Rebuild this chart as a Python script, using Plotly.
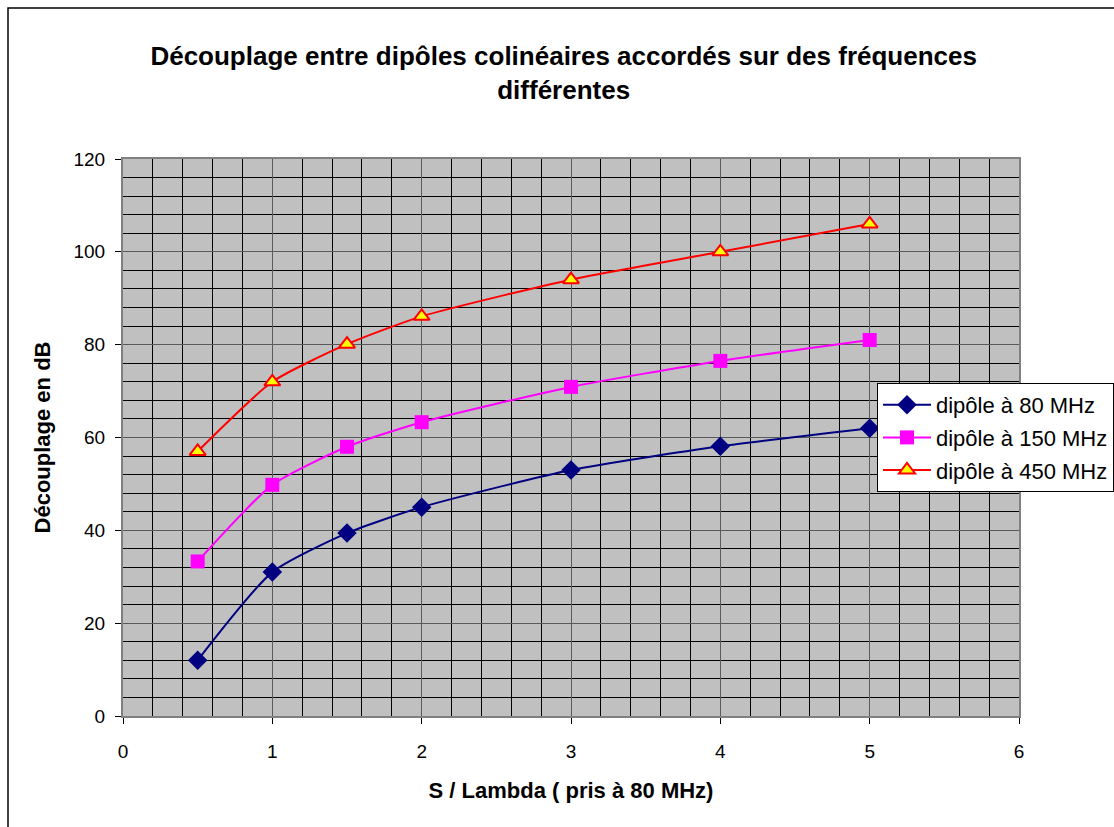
import plotly.graph_objects as go

x_vals = [0.5, 1, 1.5, 2, 3, 4, 5]
y_80 = [12, 31, 39.4, 45, 53, 58.1, 62]
y_150 = [33.3, 49.8, 58, 63.3, 70.9, 76.5, 81]
y_450 = [57, 72, 80.1, 86.1, 94, 100, 106]
names = ["dipôle à 80 MHz", "dipôle à 150 MHz", "dipôle à 450 MHz"]

W, H = 1114, 827
L, R, T, B = 123, 95, 159, 111
pw, ph = W - L - R, H - T - B

FONT = "Arial, Liberation Sans, sans-serif"

fig = go.Figure()
fig.add_trace(go.Scatter(x=x_vals, y=y_80, name=names[0], mode="lines+markers",
                         line=dict(color="#000080", width=2, shape="spline", smoothing=0.6),
                         marker=dict(symbol="diamond", size=15, color="#000080"),
                         legendgroup="a"))
fig.add_trace(go.Scatter(x=x_vals, y=y_150, name=names[1], mode="lines+markers",
                         line=dict(color="#FF00FF", width=2, shape="spline", smoothing=0.6),
                         marker=dict(symbol="square", size=14, color="#FF00FF"),
                         legendgroup="b"))
fig.add_trace(go.Scatter(x=x_vals, y=y_450, name=names[2], mode="lines+markers",
                         line=dict(color="#FF0000", width=2, shape="spline", smoothing=0.6),
                         marker=dict(symbol="triangle-up", size=14, color="#FFFF00",
                                     line=dict(color="#FF0000", width=2)),
                         legendgroup="c"))

def px(xp):
    return (xp - L) / pw

def py(yp):
    return (H - B - yp) / ph

fig.update_layout(
    width=W, height=H,
    margin=dict(l=L, r=R, t=T, b=B, pad=0, autoexpand=False),
    paper_bgcolor="white",
    plot_bgcolor="#C0C0C0",
    font=dict(family=FONT, size=19, color="black"),
    title=dict(text="<b>Découplage entre dipôles colinéaires accordés sur des fréquences<br>différentes</b>",
               x=0.506, xanchor="center", y=1 - 65 / H, yanchor="middle",
               font=dict(family=FONT, size=26, color="black")),
    xaxis=dict(range=[0, 6], dtick=1, tick0=0, showgrid=True, gridcolor="#5a5a5a", gridwidth=1,
               minor=dict(dtick=0.2, showgrid=True, gridcolor="#000000", gridwidth=1),
               showline=True, linecolor="#808080", linewidth=2, mirror=True,
               ticks="outside", ticklen=6, tickcolor="black", zeroline=False,
               ticklabelstandoff=11,
               tickfont=dict(family=FONT, size=19),
               title=dict(text="<b>S / Lambda ( pris à 80 MHz)</b>", standoff=22,
                          font=dict(family=FONT, size=22))),
    yaxis=dict(range=[0, 120], dtick=20, tick0=0, showgrid=True, gridcolor="#5a5a5a", gridwidth=1,
               minor=dict(dtick=4, showgrid=True, gridcolor="#000000", gridwidth=1),
               showline=True, linecolor="#808080", linewidth=2, mirror=True,
               ticks="outside", ticklen=6, tickcolor="black", zeroline=False,
               ticklabelstandoff=6,
               tickfont=dict(family=FONT, size=19),
               title=dict(text="<b>Découplage en dB</b>", standoff=17,
                          font=dict(family=FONT, size=22))),
    legend=dict(x=px(877), y=py(383), xanchor="left", yanchor="top",
                bgcolor="white", bordercolor="black", borderwidth=1,
                font=dict(family=FONT, size=22), tracegroupgap=1,
                traceorder="grouped", itemwidth=48),
    shapes=[dict(type="rect", xref="paper", yref="paper",
                 x0=px(8), x1=px(W + 10), y0=py(H + 10), y1=py(8),
                 line=dict(color="black", width=1.5), fillcolor="rgba(0,0,0,0)", layer="above")],
    showlegend=True,
)

fig.write_html("out.html")
